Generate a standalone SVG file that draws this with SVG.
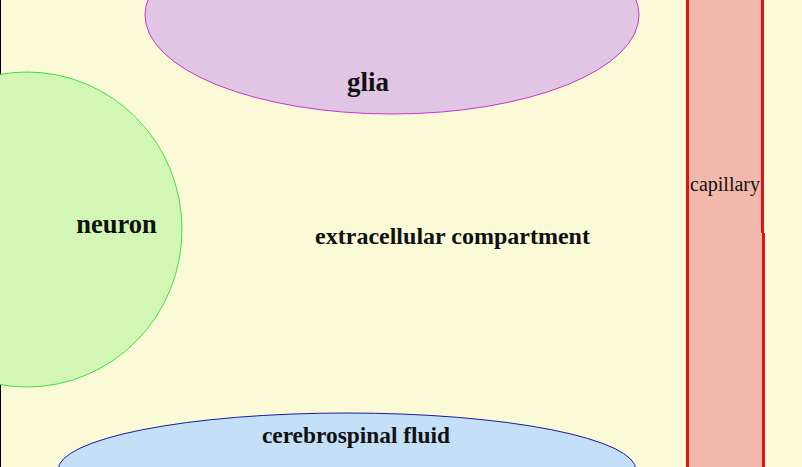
<svg xmlns="http://www.w3.org/2000/svg" width="802" height="467" viewBox="0 0 802 467">
<style>
.lbl{font-family:"Liberation Serif","Times New Roman",serif;font-weight:bold;font-size:24px;fill:#111}
.cap{font-family:"Liberation Serif","Times New Roman",serif;font-size:20px;fill:#111}
</style>
<rect x="0" y="0" width="802" height="467" fill="#fafad6"/>
<line x1="0.5" y1="0" x2="0.5" y2="467" stroke="#000" stroke-width="1"/>
<g id="capillary">
<rect x="687" y="0" width="76" height="467" fill="#f2b8ac"/>
<line x1="687.5" y1="0" x2="687.5" y2="467" stroke="#e01414" stroke-width="3"/>
<line x1="762.5" y1="0" x2="762.5" y2="233" stroke="#e01414" stroke-width="3"/>
<line x1="763.5" y1="233" x2="763.5" y2="467" stroke="#e01414" stroke-width="3"/>
<text class="cap" x="725" y="191" text-anchor="middle">capillary</text>
</g>
<g id="glia">
<ellipse cx="392" cy="15" rx="247" ry="99" fill="#e0c6e4" stroke="#cc33cc" stroke-width="1"/>
<text class="lbl" x="368" y="91" text-anchor="middle" style="font-size:27px">glia</text>
</g>
<g id="neuron">
<ellipse cx="27" cy="229.5" rx="155" ry="157.5" fill="#d2f7b4" stroke="#44dd44" stroke-width="1"/>
<text class="lbl" x="116.5" y="233" text-anchor="middle" style="font-size:26.5px">neuron</text>
</g>
<g id="csf">
<ellipse cx="347" cy="470" rx="289" ry="57" fill="#c4e0f8" stroke="#1a1a99" stroke-width="1"/>
<text class="lbl" x="356" y="443" text-anchor="middle" style="font-size:23.4px">cerebrospinal fluid</text>
</g>
<g id="extracellular">
<text class="lbl" x="452.5" y="244" text-anchor="middle">extracellular compartment</text>
</g>
<g id="connectors"></g>
</svg>
